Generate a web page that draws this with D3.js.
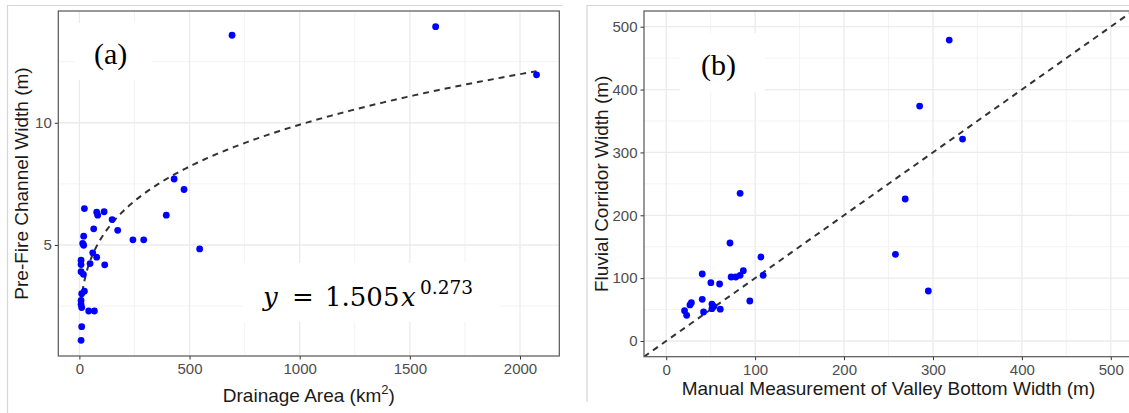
<!DOCTYPE html>
<html>
<head>
<meta charset="utf-8">
<script src="https://cdn.jsdelivr.net/npm/d3@7"></script>
<style>
  body { margin: 0; background: #fff; }
  svg { display: block; font-family: "Liberation Sans", Arial, sans-serif; }
  .tick text { fill: #4d4d4d; font-size: 15px; font-family: "Liberation Sans", Arial, sans-serif; }
  .tick line { stroke: #333; }
  .axis-title { font-size: 19px; fill: #1a1a1a; }
</style>
</head>
<body>
<svg width="1129" height="413"></svg>
<script>
var svg = d3.select('svg');

// ---- panel (a): drainage area (km2) vs pre-fire channel width (m)
var areaA = [22.7, 78.6, 83.2, 112.3, 148.6, 65, 174, 19.5, 15, 19.5, 243, 292,
             60.5, 78.6, 48.6, 115, 7.7, 7.7, 7.7, 18.2, 22.7, 10.5, 7.7, 7.7,
             10.5, 42.3, 68.2, 10.5, 7.7, 394.5, 430, 475, 546, 693, 1617, 2075];
var widthA = [6.49, 6.34, 6.22, 6.36, 6.04, 5.66, 5.6, 5.36, 5.06, 4.99, 5.21, 5.21,
              4.68, 4.5, 4.24, 4.19, 4.38, 4.2, 3.91, 3.8, 3.11, 3.01, 2.73, 2.57,
              2.44, 2.3, 2.3, 1.66, 1.1, 6.22, 7.7, 7.27, 4.84, 13.58, 13.93, 11.96];
// power-law fit printed on the chart: y = 1.505 x^0.273
var fitCoef = 1.505, fitExp = 0.273;
var xTicksA = [0, 500, 1000, 1500, 2000];
var xMinorA = [250, 750, 1250, 1750];
var yTicksA = [5, 10];
var yMinorA = [2.5, 7.5, 12.5];

// ---- panel (b): manual valley bottom width vs fluvial corridor width (m)
var manualB = [318.3, 285, 333.3, 83.1, 268.8, 71.7, 257.8, 106.5, 40.5, 294.8,
               50.2, 60, 73, 78.2, 83.1, 86.7, 109, 94, 40.5, 28.3,
               26.7, 20.6, 23, 42, 51.4, 51.4, 53.5, 60.8];
var corridorB = [478.8, 373.8, 321.3, 235, 225.9, 155.9, 137.9, 133.6, 106.6, 79.5,
                 92.8, 90.7, 101.8, 101.8, 104.5, 111.8, 104.5, 63.6, 66.3, 61,
                 57.3, 48.2, 40.9, 46.1, 58.7, 51.4, 55, 50.6];
var limitsB = [0, 500];
var ticksB = [0, 100, 200, 300, 400, 500];
var minorB = [50, 150, 250, 350, 450];

// ggplot-style 5% expansion
function expand(ext) {
  var p = (ext[1] - ext[0]) * 0.05;
  return [ext[0] - p, ext[1] + p];
}

var boxA = {l: 58.3, t: 11, r: 559.3, b: 356};
var boxB = {l: 644, t: 11, r: 1133, b: 356.7};

var xA = d3.scaleLinear().domain(expand(d3.extent(areaA))).range([boxA.l, boxA.r]);
var yA = d3.scaleLinear().domain(expand(d3.extent(widthA))).range([boxA.b, boxA.t]);
var xB = d3.scaleLinear().domain(expand(limitsB)).range([boxB.l, boxB.r]);
var yB = d3.scaleLinear().domain(expand(limitsB)).range([boxB.b, boxB.t]);

// outer figure frames (partly visible)
svg.append('path').attr('d', 'M7.5,413V5.5H562.5')
  .attr('fill', 'none').attr('stroke', '#d6d6d6').attr('stroke-width', 1.2);
svg.append('path').attr('d', 'M587,402V5.5H1129')
  .attr('fill', 'none').attr('stroke', '#d6d6d6').attr('stroke-width', 1.2);

function cleanAxis(s) {
  s.attr('font-family', null).attr('font-size', null);
  s.select('.domain').remove();
}

function drawPanel(id, box, x, y, xt, xm, yt, ym) {
  var g = svg.append('g');
  svg.append('clipPath').attr('id', id)
    .append('rect')
    .attr('x', box.l).attr('y', box.t)
    .attr('width', box.r - box.l).attr('height', box.b - box.t);

  var grid = g.append('g').attr('clip-path', 'url(#' + id + ')');
  // minor grid
  grid.selectAll('.vminor').data(xm).enter().append('line')
    .attr('x1', x).attr('x2', x).attr('y1', box.t).attr('y2', box.b)
    .attr('stroke', '#f0f0f0').attr('stroke-width', 0.8);
  grid.selectAll('.hminor').data(ym).enter().append('line')
    .attr('y1', y).attr('y2', y).attr('x1', box.l).attr('x2', box.r)
    .attr('stroke', '#f0f0f0').attr('stroke-width', 0.8);
  // major grid
  grid.selectAll('.vmajor').data(xt).enter().append('line')
    .attr('x1', x).attr('x2', x).attr('y1', box.t).attr('y2', box.b)
    .attr('stroke', '#ebebeb').attr('stroke-width', 1.3);
  grid.selectAll('.hmajor').data(yt).enter().append('line')
    .attr('y1', y).attr('y2', y).attr('x1', box.l).attr('x2', box.r)
    .attr('stroke', '#ebebeb').attr('stroke-width', 1.3);

  g.append('g')
    .attr('transform', 'translate(0,' + box.b + ')')
    .call(d3.axisBottom(x).tickValues(xt).tickFormat(d3.format('d')).tickSize(3.5).tickPadding(4))
    .call(cleanAxis);
  g.append('g')
    .attr('transform', 'translate(' + box.l + ',0)')
    .call(d3.axisLeft(y).tickValues(yt).tickFormat(d3.format('d')).tickSize(3.5).tickPadding(3))
    .call(cleanAxis);

  return g;
}

// ---------- panel (a)
var gA = drawPanel('clipA', boxA, xA, yA, xTicksA, xMinorA, yTicksA, yMinorA);

// white boxes behind pasted labels
gA.append('rect').attr('x', 75).attr('y', 23).attr('width', 77).attr('height', 57).attr('fill', '#fff');
gA.append('rect').attr('x', 243).attr('y', 263).attr('width', 256).attr('height', 59).attr('fill', '#fff');

var xFit = d3.range(0, 201).map(function (i) {
  var e = d3.extent(areaA);
  return e[0] + (e[1] - e[0]) * Math.pow(i / 200, 2);
});
gA.append('path')
  .datum(xFit)
  .attr('fill', 'none')
  .attr('stroke', '#333')
  .attr('stroke-width', 2)
  .attr('stroke-dasharray', '6,5')
  .attr('d', d3.line()
    .x(function (d) { return xA(d); })
    .y(function (d) { return yA(fitCoef * Math.pow(d, fitExp)); }));

gA.selectAll('.dot').data(areaA).enter().append('circle')
  .attr('cx', function (d) { return xA(d); })
  .attr('cy', function (d, i) { return yA(widthA[i]); })
  .attr('r', 3.4)
  .attr('fill', '#0000ff');

gA.append('rect')
  .attr('x', boxA.l).attr('y', boxA.t)
  .attr('width', boxA.r - boxA.l).attr('height', boxA.b - boxA.t)
  .attr('fill', 'none').attr('stroke', '#555').attr('stroke-width', 1.2);

gA.append('text')
  .attr('x', 94).attr('y', 64)
  .attr('font-family', '"Liberation Serif", "Times New Roman", serif')
  .attr('font-size', 30).attr('fill', '#000')
  .text('(a)');

var eq = gA.append('text')
  .attr('font-family', '"DejaVu Serif", serif')
  .attr('font-size', 26).attr('fill', '#000');
eq.append('tspan').attr('x', 263).attr('y', 306).attr('font-style', 'italic').text('y');
eq.append('tspan').attr('x', 292).attr('y', 306).text('=');
eq.append('tspan').attr('x', 325).attr('y', 306).text('1.505');
eq.append('tspan').attr('x', 401).attr('y', 306).attr('font-style', 'italic').text('x');
eq.append('tspan').attr('x', 420).attr('y', 294).attr('font-size', 18.5).text('0.273');

gA.append('text')
  .attr('class', 'axis-title')
  .attr('x', (boxA.l + boxA.r) / 2).attr('y', 402)
  .attr('text-anchor', 'middle')
  .call(function (t) {
    t.append('tspan').text('Drainage Area (km');
    t.append('tspan').attr('dy', -8).attr('font-size', 13).text('2');
    t.append('tspan').attr('dy', 8).text(')');
  });

gA.append('text')
  .attr('class', 'axis-title')
  .attr('transform', 'translate(28,' + (boxA.t + boxA.b) / 2 + ') rotate(-90)')
  .attr('text-anchor', 'middle')
  .text('Pre-Fire Channel Width (m)');

// ---------- panel (b)
var gB = drawPanel('clipB', boxB, xB, yB, ticksB, minorB, ticksB, minorB);

gB.append('rect').attr('x', 680).attr('y', 33).attr('width', 85).attr('height', 59).attr('fill', '#fff');

// 1:1 line across the panel
var oneToOne = expand(limitsB);
gB.append('line')
  .attr('clip-path', 'url(#clipB)')
  .attr('x1', xB(oneToOne[0])).attr('y1', yB(oneToOne[0]))
  .attr('x2', xB(oneToOne[1])).attr('y2', yB(oneToOne[1]))
  .attr('stroke', '#333')
  .attr('stroke-width', 2)
  .attr('stroke-dasharray', '6,5');

gB.selectAll('.dot').data(manualB).enter().append('circle')
  .attr('cx', function (d) { return xB(d); })
  .attr('cy', function (d, i) { return yB(corridorB[i]); })
  .attr('r', 3.4)
  .attr('fill', '#0000ff');

gB.append('rect')
  .attr('x', boxB.l).attr('y', boxB.t)
  .attr('width', boxB.r - boxB.l).attr('height', boxB.b - boxB.t)
  .attr('fill', 'none').attr('stroke', '#555').attr('stroke-width', 1.2);

gB.append('text')
  .attr('x', 701).attr('y', 75)
  .attr('font-family', '"Liberation Serif", "Times New Roman", serif')
  .attr('font-size', 30).attr('fill', '#000')
  .text('(b)');

gB.append('text')
  .attr('class', 'axis-title')
  .attr('x', (boxB.l + boxB.r) / 2).attr('y', 395)
  .attr('text-anchor', 'middle')
  .text('Manual Measurement of Valley Bottom Width (m)');

gB.append('text')
  .attr('class', 'axis-title')
  .attr('transform', 'translate(607.5,' + (boxB.t + boxB.b) / 2 + ') rotate(-90)')
  .attr('text-anchor', 'middle')
  .text('Fluvial Corridor Width (m)');
</script>
</body>
</html>
